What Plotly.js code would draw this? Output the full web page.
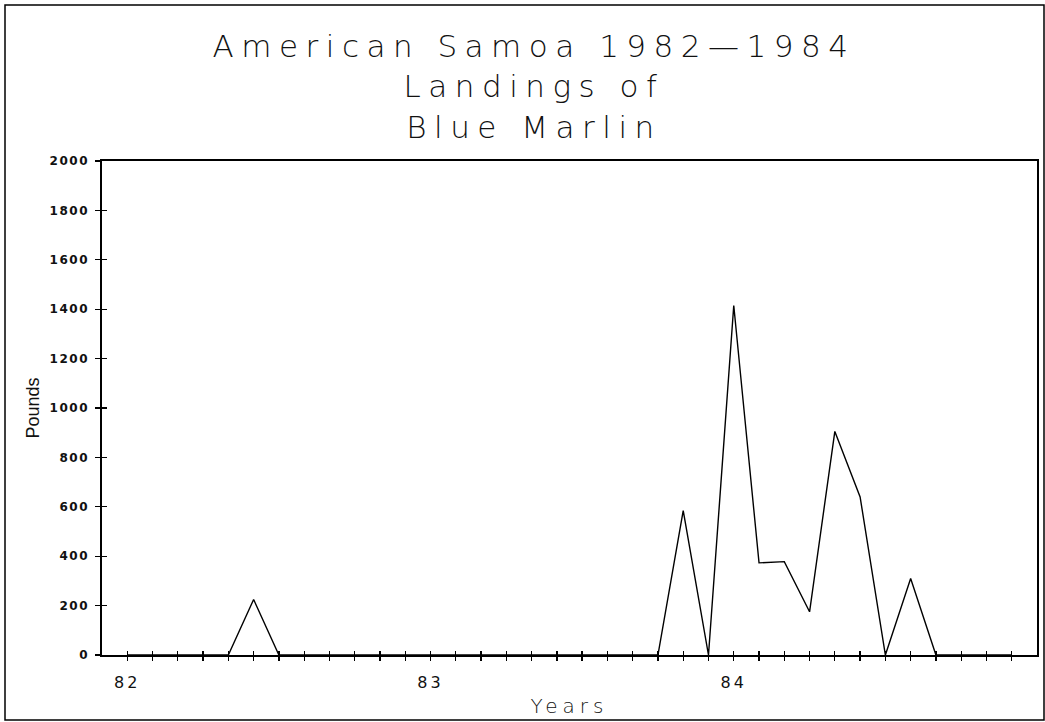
<!DOCTYPE html>
<html>
<head>
<meta charset="utf-8">
<script src="https://cdn.plot.ly/plotly-3.0.1.min.js"></script>
<style>
  html, body { margin: 0; padding: 0; background: #fff; }
  #chart { width: 1045px; height: 722px; }
  .gtitle { letter-spacing: 7.5px; }
  .xtitle { letter-spacing: 5px; }
  .xtick text { letter-spacing: 3px; }
  .ytick text { letter-spacing: 1.5px; }
</style>
</head>
<body>
<div id="chart"></div>
<script>
// Month index (0 = Jan 1982)
const monthIndex = [0,1,2,3,4,5,6,7,8,9,10,11,12,13,14,15,16,17,18,19,20,21,22,23,24,25,26,27,28,29,30,31,32,33,34,35];
// Landings of Blue Marlin, pounds
const pounds = [0,0,0,0,0,225,0,0,0,0,0,0,0,0,0,0,0,0,0,0,0,0,585,0,1415,373,378,175,905,640,0,310,0,0,0,0];
// Year tick labels
const yearTickVals = [0,12,24];
const yearTickText = ['82','83','84'];
const yTickVals = [0,200,400,600,800,1000,1200,1400,1600,1800,2000];

const monthTickText = monthIndex.map(m => {
  const i = yearTickVals.indexOf(m);
  return i >= 0 ? yearTickText[i] : '';
});

// layout geometry (pixels)
const W = 1045, H = 722;
const L = 102, R = 1037, T = 161, B = 655;
const px = v => (v - L) / (R - L);
const py = v => (B - v) / (B - T);

const trace = {
  x: monthIndex, y: pounds, type: 'scatter', mode: 'lines',
  line: { color: '#000', width: 1.4 }, cliponaxis: true, hoverinfo: 'skip'
};
const dummy = { x: [], y: [], xaxis: 'x2', yaxis: 'y2', type: 'scatter', mode: 'lines', showlegend: false };

const tickFont = { family: 'DejaVu Sans', size: 12, color: '#111', weight: 'bold' };

const layout = {
  width: W, height: H,
  margin: { l: L, r: W - R, t: T, b: H - B, pad: 0 },
  paper_bgcolor: '#fff', plot_bgcolor: '#fff',
  showlegend: false,
  title: {
    text: 'American Samoa 1982—1984<br>Landings of<br>Blue Marlin',
    font: { family: 'DejaVu Sans', size: 31, color: '#111', weight: 200 },
    xref: 'container', x: 534 / W, xanchor: 'center',
    yref: 'container', y: 1 - 57 / H, yanchor: 'top'
  },
  xaxis: {
    range: [-1, 36], showgrid: false, zeroline: false,
    showline: true, linecolor: '#000', linewidth: 1.6, mirror: true,
    tickmode: 'array', tickvals: monthIndex, ticktext: monthTickText,
    ticks: 'outside', ticklen: 4, tickwidth: 1.3, tickcolor: '#000',
    ticklabelstandoff: 8,
    tickfont: { family: 'DejaVu Sans', size: 16, color: '#111' },
    title: { text: 'Years', standoff: 8,
      font: { family: 'DejaVu Sans', size: 20, color: '#111', weight: 200 } }
  },
  yaxis: {
    range: [0, 2000], showgrid: false, zeroline: false,
    showline: true, linecolor: '#000', linewidth: 1.6, mirror: true,
    tickmode: 'array', tickvals: yTickVals,
    ticks: 'outside', ticklen: 5, tickwidth: 1.3, tickcolor: '#000',
    ticklabelstandoff: 4,
    tickfont: tickFont,
    title: { text: 'Pounds', standoff: 5,
      font: { family: 'Liberation Sans Narrow, Liberation Sans, sans-serif', size: 18, color: '#111' } }
  },
  xaxis2: {
    range: [-1, 36], overlaying: 'x', anchor: 'y', side: 'bottom',
    showgrid: false, zeroline: false, showline: false, showticklabels: false,
    tickmode: 'array', tickvals: monthIndex,
    ticks: 'inside', ticklen: 4, tickwidth: 1.3, tickcolor: '#000'
  },
  yaxis2: {
    range: [0, 2000], overlaying: 'y', anchor: 'x', side: 'left',
    showgrid: false, zeroline: false, showline: false, showticklabels: false,
    tickmode: 'array', tickvals: yTickVals,
    ticks: 'inside', ticklen: 5, tickwidth: 1.3, tickcolor: '#000'
  },
  shapes: [{
    type: 'rect', xref: 'paper', yref: 'paper',
    x0: px(5), x1: px(1044), y0: py(720), y1: py(5),
    line: { color: '#000', width: 1.5 }, fillcolor: 'rgba(0,0,0,0)', layer: 'below'
  }]
};

Plotly.newPlot('chart', [trace, dummy], layout, { staticPlot: true, displayModeBar: false });
</script>
</body>
</html>
